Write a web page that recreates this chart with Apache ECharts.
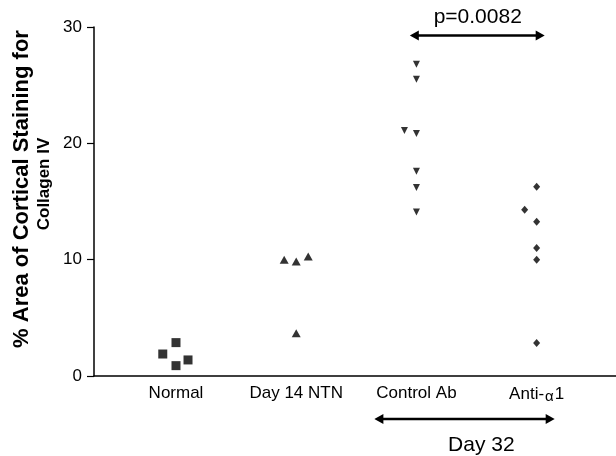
<!DOCTYPE html>
<html>
<head>
<meta charset="utf-8">
<script src="https://cdn.jsdelivr.net/npm/echarts@6/dist/echarts.min.js"></script>
<style>html,body{margin:0;padding:0;background:#fff}#c{width:616px;height:456px}</style>
</head>
<body>
<div id="c"></div>
<script>
const categories = ['Normal', 'Day 14 NTN', 'Control Ab', 'Anti-α1'];
const yTicks = [0, 10, 20, 30];

const normalVals = [1.89, 2.87, 0.89, 1.38];
const normalJitter = [-0.11, 0, 0, 0.1];

const day14Vals = [10.0, 9.84, 10.27, 3.67];
const day14Jitter = [-0.1, 0, 0.1, 0];

const controlVals = [26.8, 25.5, 21.1, 20.85, 17.6, 16.2, 14.1];
const controlJitter = [0, 0, -0.1, 0, 0, 0, 0];

const antiVals = [16.26, 14.3, 13.25, 11.0, 10.0, 2.84];
const antiJitter = [0, -0.1, 0, 0, 0, 0];

const pLabel = 'p=0.0082';
const dayLabel = 'Day 32';
const yTitle1 = '% Area of Cortical Staining for';
const yTitle2 = 'Collagen IV';

function pts(catIndex, vals, jit) {
  return vals.map((v, i) => [catIndex + 1 + jit[i], v]);
}

const chart = echarts.init(document.getElementById('c'), null, {renderer: 'canvas'});
const FONT = 'Liberation Sans, Arial, sans-serif';

chart.setOption({
  animation: false,
  backgroundColor: '#fff',
  grid: {left: 94, right: 0, top: 27, bottom: 80},
  xAxis: {
    type: 'value', min: 0.318, max: 4.66,
    splitLine: {show: false},
    axisTick: {show: false},
    axisLine: {show: true, lineStyle: {color: '#000', width: 1.5}},
    axisLabel: {
      customValues: [1, 2, 3, 4],
      margin: 9,
      color: '#000', fontSize: 17, fontFamily: FONT,
      formatter: v => {
        const s = categories[Math.round(v) - 1] || '';
        return s.indexOf('α') >= 0 ? 'Anti-{a|α}1' : s;
      },
      rich: {a: {fontSize: 15, fontFamily: FONT, color: '#000', padding: [4, 1, 0, 1]}}
    }
  },
  yAxis: {
    type: 'value', min: 0, max: 30, interval: 10,
    splitLine: {show: false},
    axisLine: {show: true, lineStyle: {color: '#000', width: 1.5}},
    axisTick: {show: true, length: 7, lineStyle: {color: '#000', width: 1.2}},
    axisLabel: {color: '#000', fontSize: 17, fontFamily: FONT, margin: 12,
      customValues: yTicks}
  },
  series: [
    {type: 'scatter', data: pts(0, normalVals, normalJitter), symbol: 'rect', symbolSize: 9,
     itemStyle: {color: '#000'}},
    {type: 'scatter', data: pts(1, day14Vals, day14Jitter), symbol: 'triangle', symbolSize: [9, 8],
     itemStyle: {color: '#000'}},
    {type: 'scatter', data: pts(2, controlVals, controlJitter), symbol: 'triangle', symbolRotate: 180,
     symbolSize: [7, 7], itemStyle: {color: '#000'}},
    {type: 'scatter', data: pts(3, antiVals, antiJitter), symbol: 'diamond', symbolSize: [7, 8],
     itemStyle: {color: '#000'}}
  ]
});

function P(x, y) { return chart.convertToPixel({gridIndex: 0}, [x, y]); }

function arrow(x1, x2, y) {
  const a = P(x1, y), b = P(x2, y);
  const L = 9, H = 5, yy = a[1];
  return [
    {type: 'line', shape: {x1: a[0] + 4, y1: yy, x2: b[0] - 4, y2: yy},
     style: {stroke: '#000', lineWidth: 2.5}},
    {type: 'polygon', shape: {points: [[a[0], yy], [a[0] + L, yy - H], [a[0] + L, yy + H]]},
     style: {fill: '#000'}},
    {type: 'polygon', shape: {points: [[b[0], yy], [b[0] - L, yy - H], [b[0] - L, yy + H]]},
     style: {fill: '#000'}}
  ];
}

const pPos = P(3.51, 30.8);
const dPos = P(3.54, -5.94);
const g = [].concat(
  arrow(2.945, 4.067, 29.26),
  arrow(2.65, 4.15, -3.7),
  [
    {type: 'text', x: pPos[0], y: pPos[1],
     style: {text: pLabel, font: '21px ' + FONT, fill: '#000', align: 'center', verticalAlign: 'middle'}},
    {type: 'text', x: dPos[0], y: dPos[1],
     style: {text: dayLabel, font: '21px ' + FONT, fill: '#000', align: 'center', verticalAlign: 'middle'}},
    {type: 'text', x: 22, y: 189, rotation: Math.PI / 2,
     style: {text: yTitle1, font: 'bold 22px ' + FONT, fill: '#000', align: 'center', verticalAlign: 'middle'}},
    {type: 'text', x: 44, y: 184, rotation: Math.PI / 2,
     style: {text: yTitle2, font: 'bold 17px ' + FONT, fill: '#000', align: 'center', verticalAlign: 'middle'}}
  ]
);
chart.setOption({graphic: g});
</script>
</body>
</html>
